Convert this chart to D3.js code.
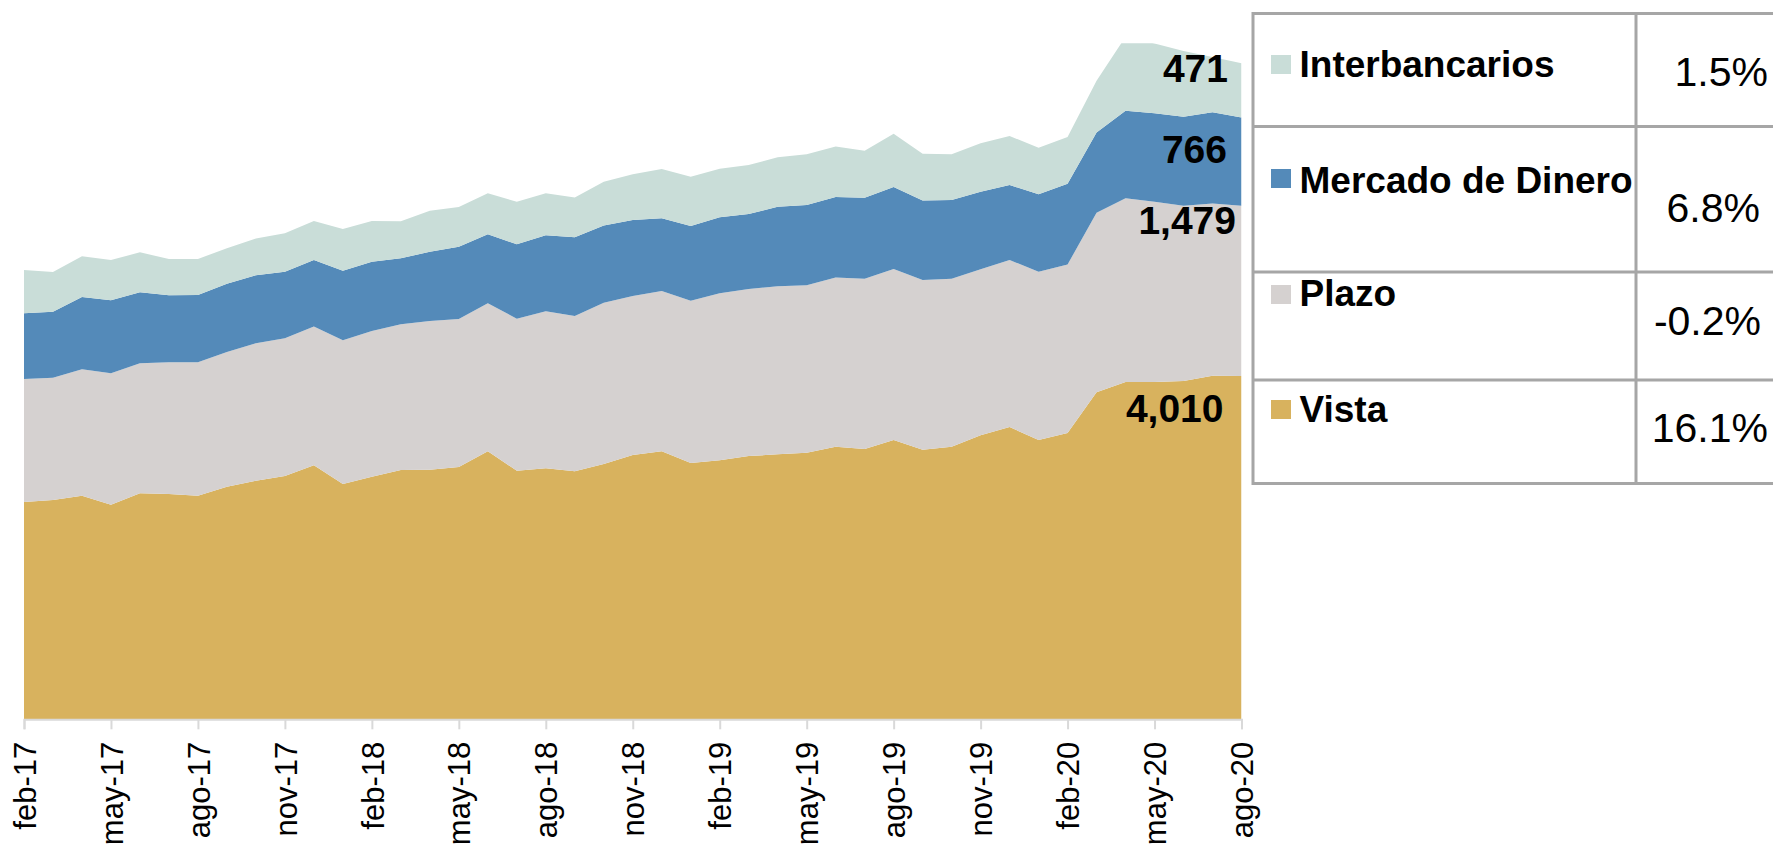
<!DOCTYPE html>
<html>
<head>
<meta charset="utf-8">
<script src="https://cdn.jsdelivr.net/npm/d3@7"></script>
<style>
html,body{margin:0;padding:0;background:#fff;overflow:hidden;}
svg{display:block;font-family:"Liberation Sans",Arial,sans-serif;}
</style>
</head>
<body>
<svg id="chart" width="1773" height="845"></svg>
<script>
// ---------- DATA ----------
const months = ["feb-17","mar-17","abr-17","may-17","jun-17","jul-17","ago-17","sep-17","oct-17","nov-17","dic-17",
  "ene-18","feb-18","mar-18","abr-18","may-18","jun-18","jul-18","ago-18","sep-18","oct-18","nov-18","dic-18",
  "ene-19","feb-19","mar-19","abr-19","may-19","jun-19","jul-19","ago-19","sep-19","oct-19","nov-19","dic-19",
  "ene-20","feb-20","mar-20","abr-20","may-20","jun-20","jul-20","ago-20"];
const tickLabels = ["feb-17","may-17","ago-17","nov-17","feb-18","may-18","ago-18","nov-18",
  "feb-19","may-19","ago-19","nov-19","feb-20","may-20","ago-20"];

const seriesNames = ["Vista","Plazo","Mercado de Dinero","Interbancarios"];
const vista = [2917,2934,2972,2893,2992,2986,2972,3050,3102,3143,3236,3073,3137,3195,3197,3221,3357,3189,3210,3184,3247,3325,3357,3256,3279,3316,3331,3345,3397,3377,3455,3371,3397,3496,3568,3455,3516,3870,3959,3959,3968,4014,4010];
const plazo = [1068,1062,1098,1141,1129,1144,1158,1170,1193,1196,1204,1248,1265,1265,1291,1285,1285,1320,1363,1349,1401,1381,1392,1409,1450,1450,1459,1454,1469,1479,1485,1474,1459,1442,1450,1462,1463,1559,1595,1566,1522,1494,1479];
const mercadoDinero = [571,573,628,634,617,582,584,591,591,578,579,604,602,573,602,628,599,646,660,683,669,660,631,649,660,651,691,697,699,703,712,689,683,674,651,672,702,697,761,768,773,794,766];
const interbancarios = [376,345,353,350,347,315,313,310,318,334,339,362,353,321,356,345,356,370,365,344,380,397,428,428,422,426,429,440,439,408,463,406,397,420,426,405,406,449,642,605,571,480,471];

const lastLabels = ["4,010","1,479","766","471"];
const growthLabels = ["16.1%","-0.2%","6.8%","1.5%"];
const yDomain = [1030, 6900];

// ---------- STYLE ----------
const colors = {"Vista":"#D8B25E","Plazo":"#D5D1D0","Mercado de Dinero":"#548AB9","Interbancarios":"#C9DDD8"};
const plot = {left:24, right:1241.5, top:43.3, bottom:719.3};

const svg = d3.select("#chart");

const table = months.map((m,i)=>({month:m, "Vista":vista[i], "Plazo":plazo[i], "Mercado de Dinero":mercadoDinero[i], "Interbancarios":interbancarios[i]}));

const x = d3.scalePoint().domain(months).range([plot.left, plot.right]);
const y = d3.scaleLinear().domain(yDomain).range([plot.bottom, plot.top]);

const stack = d3.stack().keys(seriesNames);
const layers = stack(table);

svg.append("defs").append("clipPath").attr("id","plotclip")
  .append("rect").attr("x",plot.left).attr("y",plot.top)
  .attr("width",plot.right-plot.left).attr("height",plot.bottom-plot.top);

const area = d3.area()
  .x(d=>x(d.data.month))
  .y0(d=>y(d[0]))
  .y1(d=>y(d[1]));

svg.append("g").attr("clip-path","url(#plotclip)")
  .selectAll("path").data(layers).join("path")
  .attr("d",area)
  .attr("fill",d=>colors[d.key]);

// x axis
const xAxis = d3.axisBottom(x).tickValues(tickLabels).tickSize(10).tickFormat("");
const gx = svg.append("g").attr("transform",`translate(0,${plot.bottom})`).call(xAxis);
gx.select(".domain").attr("stroke","#D9D9D9").attr("stroke-width",2);
gx.selectAll(".tick line").attr("stroke","#D9D9D9").attr("stroke-width",2);
gx.selectAll(".tick").append("text")
  .attr("transform","rotate(-90)")
  .attr("x",-22.5).attr("y",0).attr("dy","0.36em")
  .attr("text-anchor","end")
  .attr("fill","#000")
  .style("font-size","31px")
  .text(d=>d);

// end value labels
const labelOffsets = [46, 28, 45, 19];
const labelDx = [-18, -5.5, -14.5, -13.5];
const last = months.length-1;
layers.forEach((L,i)=>{
  svg.append("text")
    .attr("x", x(months[last]) + labelDx[i])
    .attr("y", y(L[last][1]) + labelOffsets[i])
    .attr("text-anchor","end")
    .style("font-size","39px").style("font-weight","bold")
    .attr("fill","#000")
    .text(lastLabels[i]);
});

// legend table
const tbl = {left:1253, right:1790, col:1636, rows:[13.5,126.5,272,380,483.5]};
const g = svg.append("g");
const lineColor = "#A6A6A6";
tbl.rows.forEach(r=>g.append("line").attr("x1",tbl.left).attr("x2",tbl.right).attr("y1",r).attr("y2",r)
  .attr("stroke",lineColor).attr("stroke-width",3));
[tbl.left,tbl.col].forEach(c=>g.append("line").attr("x1",c).attr("x2",c).attr("y1",tbl.rows[0]-1.5).attr("y2",tbl.rows[4]+1.5)
  .attr("stroke",lineColor).attr("stroke-width",3));

const legendOrder = [3,2,1,0];
const nameBase = [77,193,306,422];
const swatchTop = [55,169,285,400];
const pctBase = [86,221.7,335,441.7];
const pctRight = [1768,1760,1761,1768];
legendOrder.forEach((si,row)=>{
  const name = seriesNames[si];
  g.append("rect").attr("x",1271).attr("y",swatchTop[row]).attr("width",20).attr("height",19).attr("fill",colors[name]);
  g.append("text").attr("x",1299.5).attr("y",nameBase[row])
    .style("font-size","37px").style("font-weight","bold").attr("fill","#000").text(name);
  g.append("text").attr("x",pctRight[row]).attr("y",pctBase[row]).attr("text-anchor","end")
    .style("font-size","41px").attr("fill","#000").text(growthLabels[si]);
});
</script>
</body>
</html>
